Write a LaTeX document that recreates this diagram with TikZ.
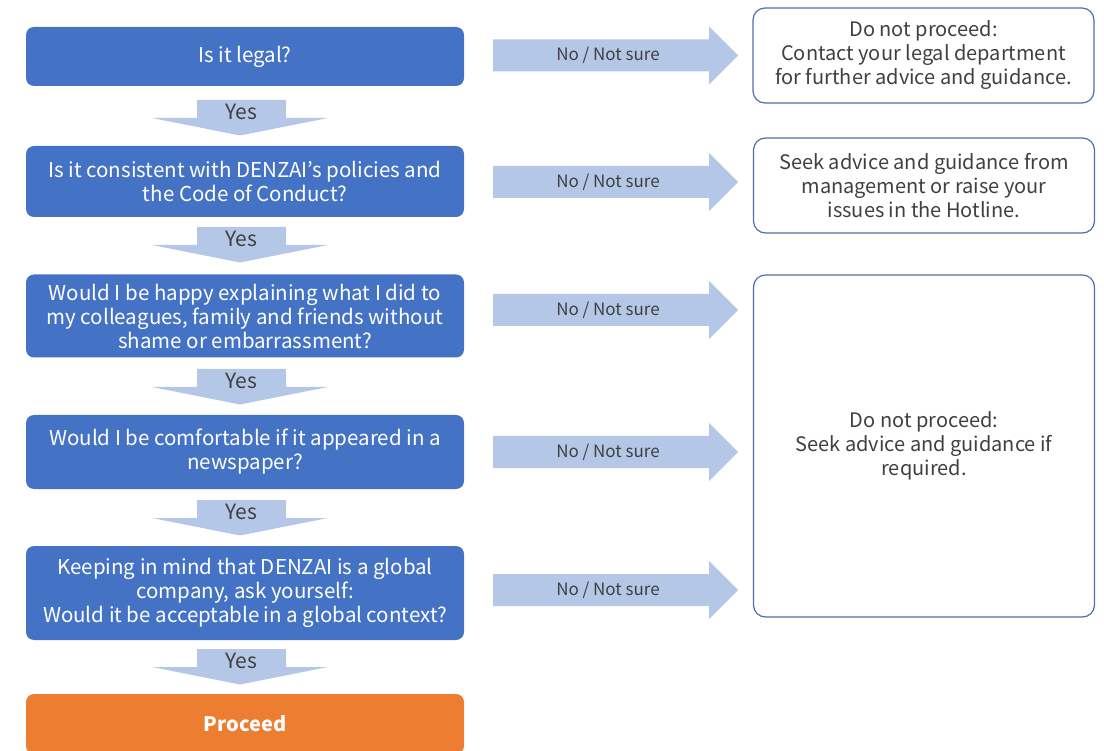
\documentclass[tikz,border=0pt]{standalone}
\usepackage{fontspec}
\setmainfont{Noto Sans CJK JP}
\usetikzlibrary{calc}
\definecolor{Ink}{HTML}{404040}
\definecolor{Blue}{HTML}{4472C4}
\definecolor{Orange}{HTML}{ED7D31}
\definecolor{Flow}{HTML}{B4C7E7}
\definecolor{Edge}{HTML}{4F6FA8}
\begin{document}
\begin{tikzpicture}[x=1pt,y=-1pt,
    qbox/.style={fill=Blue,rounded corners=8pt,text=white,align=center,
      font=\fontsize{20.5}{24}\selectfont,minimum width=438pt,inner sep=0pt},
    abox/.style={draw=Edge,line width=1.2pt,fill=white,rounded corners=12pt,text=Ink,
      align=center,font=\fontsize{20}{24}\selectfont,minimum width=341pt,inner sep=0pt},
    flowlab/.style={text=Ink,font=\fontsize{17}{18}\selectfont,inner sep=0pt}]
  \useasboundingbox (0,0) rectangle (1104,751);
  % questions
  \node[qbox,minimum height=59pt] (q1) at (245,56.5) {Is it legal?};
  \node[qbox,minimum height=71pt] (q2) at (245,181.5) {Is it consistent with DENZAI’s policies and\\the Code of Conduct?};
  \node[qbox,minimum height=83pt] (q3) at (245,316) {Would I be happy explaining what I did to\\my colleagues, family and friends without\\shame or embarrassment?};
  \node[qbox,minimum height=74pt] (q4) at (245,452) {Would I be comfortable if it appeared in a\\newspaper?};
  \node[qbox,minimum height=94pt] (q5) at (245,593) {Keeping in mind that DENZAI is a global\\company, ask yourself:\\Would it be acceptable in a global context?};
  \node[qbox,fill=Orange,minimum height=60pt,font=\fontsize{20}{24}\selectfont\bfseries] (go) at (245,724) {Proceed};
  % answers
  \node[abox,minimum height=95pt] (r1) at (923.5,55.5) {Do not proceed:\\Contact your legal department\\for further advice and guidance.};
  \node[abox,minimum height=95pt] (r2) at (924,185.5) {Seek advice and guidance from\\management or raise your\\issues in the Hotline.};
  \node[abox,minimum height=342pt] (r3) at (924,446) {Do not proceed:\\Seek advice and guidance if\\required.};
  % yes arrows
  \foreach \t [count=\i] in {100,227,369,500,649} {
    \fill[Flow] (197,\t) -- ++(89,0) -- ++(0,18) -- ++(42,0) -- (240,\t+35.5)
      -- (152,\t+18) -- ++(45,0) -- cycle;
    \node[flowlab,font=\fontsize{21}{22}\selectfont] (yes\i) at (241,\t+11.5) {Yes};
  }
  % no arrows
  \foreach \c [count=\i] in {55.5,182,310,452,590} {
    \fill[Flow] (493,\c-16) -- (709,\c-16) -- (709,\c-29) -- (738,\c)
      -- (709,\c+29) -- (709,\c+16) -- (493,\c+16) -- cycle;
    \node[flowlab] (no\i) at (608,\c) {No / Not sure};
  }
\end{tikzpicture}
\end{document}
